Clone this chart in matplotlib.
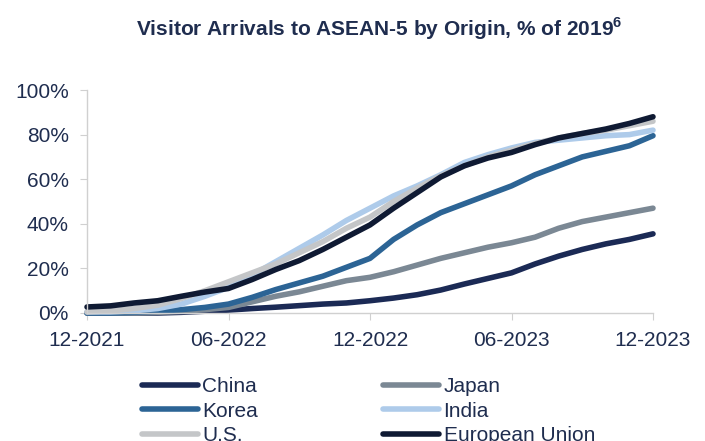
import matplotlib
matplotlib.use("Agg")
import matplotlib.pyplot as plt
from matplotlib.lines import Line2D

plt.rcParams['font.family'] = ['Liberation Sans', 'DejaVu Sans']
plt.rcParams['mathtext.fontset'] = 'custom'
plt.rcParams['mathtext.rm'] = 'Liberation Sans'
plt.rcParams['mathtext.bf'] = 'Liberation Sans:bold'

months = list(range(25))
tick_pos = [0, 6, 12, 18, 24]
tick_labels = ["12-2021", "06-2022", "12-2022", "06-2023", "12-2023"]

china = [0, 0, 0, 0, 0.3, 0.8, 1.3, 2, 2.6, 3.3, 4, 4.5, 5.5, 6.7, 8.2, 10.3, 13, 15.5, 18, 22, 25.5, 28.5, 31, 33, 35.5]
japan = [0, 0, 0, 0.3, 0.8, 1.5, 2.5, 5, 7.5, 9.5, 12, 14.5, 16, 18.5, 21.5, 24.5, 27, 29.5, 31.5, 34, 38, 41, 43, 45, 47]
korea = [0, 0, 0.3, 0.8, 1.5, 2.5, 4, 7, 10.5, 13.5, 16.5, 20.5, 24.5, 33, 39.5, 45, 49, 53, 57, 62, 66, 70, 72.5, 75, 79.5]
india = [0.5, 0.5, 1, 2, 4, 7.5, 11.5, 17, 23, 29, 35, 41.5, 47, 52.5, 57, 62, 67.5, 71, 74, 76.5, 77.5, 78.5, 79.5, 80, 82]
us = [0.5, 1, 2, 3.5, 6.5, 10, 14, 18, 22, 27, 32, 38, 43, 50, 56, 61.5, 66, 70, 73, 76, 78.5, 80.5, 82, 84, 86]
eu = [2.7, 3.2, 4.5, 5.5, 7.5, 9.4, 11, 15, 19.5, 23.5, 28.5, 34, 39.5, 47, 54, 61, 66, 69.5, 72, 75.5, 78.5, 80.5, 82.5, 85, 88]

series = [
    ("China", china, "#1b2a55"),
    ("Korea", korea, "#2c6495"),
    ("U.S.", us, "#c4c6c8"),
    ("Japan", japan, "#7b8894"),
    ("India", india, "#aecbea"),
    ("European Union", eu, "#0f1a33"),
]
draw_order = ["China", "Japan", "Korea", "India", "U.S.", "European Union"]

text_color = "#1f2d4f"
fig = plt.figure(figsize=(7.05, 4.41), dpi=100)
ax = fig.add_axes([87/705, 1-313/441, (653-87)/705, (313-90)/441])

lookup = {n: (v, c) for n, v, c in series}
for n in draw_order:
    v, c = lookup[n]
    ax.plot(months, v, color=c, lw=4, solid_capstyle='round', solid_joinstyle='round', clip_on=False)

ax.set_xlim(0, 24)
ax.set_ylim(0, 100)
ax.set_xticks(tick_pos)
ax.set_xticklabels(tick_labels)
ax.set_yticks([0, 20, 40, 60, 80, 100])
ax.set_yticklabels([f"{v}%" for v in [0, 20, 40, 60, 80, 100]])
for s in ["top", "right"]:
    ax.spines[s].set_visible(False)
for s in ["left", "bottom"]:
    ax.spines[s].set_color("#d0d0d0")
    ax.spines[s].set_linewidth(1)
ax.tick_params(axis='both', colors="#d0d0d0", labelcolor=text_color, labelsize=15)
ax.tick_params(axis='x', length=5, pad=8)
ax.tick_params(axis='y', length=5, pad=8)

fig.text(0.538, 1-29/441, r"Visitor Arrivals to ASEAN-5 by Origin, % of 2019$^{\mathbf{6}}$",
         ha='center', va='center', fontsize=15, fontweight='bold', color=text_color)

handles = [Line2D([0], [0], color=c, lw=4, solid_capstyle='round') for n, v, c in series]
labels = [n for n, v, c in series]
leg = fig.legend(handles, labels, ncol=2, loc='upper left', bbox_to_anchor=(142/705, 1-377/441),
                 frameon=False, fontsize=15, handlelength=2.7, handletextpad=0.2,
                 columnspacing=6.0, labelspacing=0.27, borderpad=0, borderaxespad=0)
for t in leg.get_texts():
    t.set_color(text_color)

fig.savefig("out.png", dpi=100)
